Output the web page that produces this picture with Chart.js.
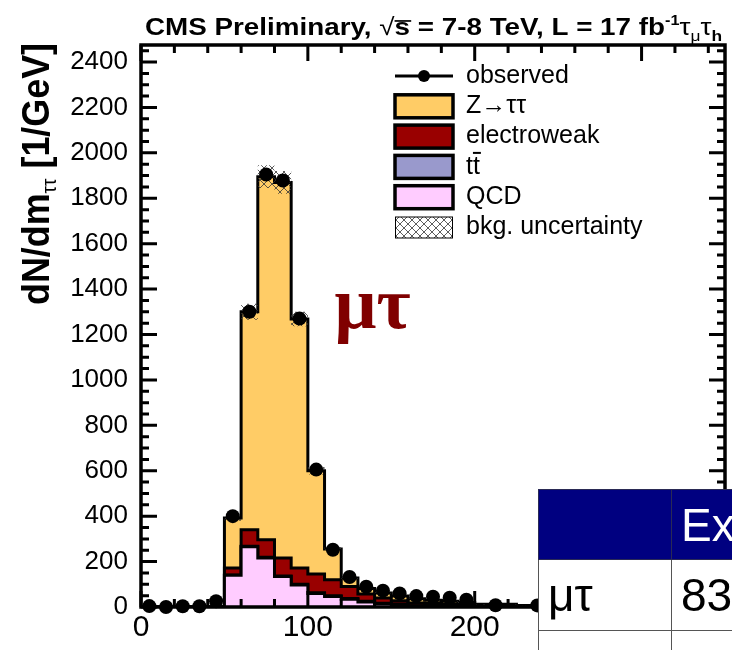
<!DOCTYPE html>
<html>
<head>
<meta charset="utf-8">
<script src="https://cdn.jsdelivr.net/npm/chart.js@4.4.1/dist/chart.umd.min.js"></script>
<style>
  html, body { margin: 0; padding: 0; background: #fff; width: 732px; height: 650px; overflow: hidden; }
  #wrap { position: relative; width: 732px; height: 650px; overflow: hidden; }
  #c { position: absolute; left: 0; top: 0; }
  #yields {
    position: absolute; left: 538px; top: 489px; width: 600px;
    table-layout: fixed; border-collapse: collapse;
    font-family: "Liberation Sans", Arial, sans-serif; font-size: 46px;
  }
  #yields th, #yields td {
    border: 1px solid #555; padding: 0 0 0 9px; text-align: left; overflow: hidden;
    white-space: nowrap; font-weight: normal; vertical-align: middle;
  }
  #yields th { background: #000080; color: #fff; height: 69px; border-color: #2a2a55; }
  #yields td { background: #fff; color: #000; height: 70px; }
  #yields .c1 { width: 123px; }
</style>
</head>
<body>
<div id="wrap">
  <canvas id="c" width="732" height="650"></canvas>
  <table id="yields">
    <tr><th class="c1"></th><th>Expected</th></tr>
    <tr><td class="c1">μτ</td><td>83</td></tr>
    <tr><td class="c1">eτ</td><td>24</td></tr>
  </table>
</div>
<script>
// ---- binning and contents (events per GeV) ----
const binEdges = [0, 10, 20, 30, 40, 50, 60, 70, 80, 90, 100, 110, 120, 130, 140, 150, 160, 170, 180, 190, 200, 225, 250, 275, 300, 325, 350];

const observed    = [4, 0, 3, 3, 25, 400, 1300, 1905, 1878, 1270, 605, 252, 132, 89, 72, 60, 48, 45, 41, 32, 8, 7, 4, 3, 2, 2];
const zTauTau     = [0, 0, 0, 0, 0, 220, 960, 1599, 1654, 1096, 455, 135, 38, 25, 22, 20, 18, 15, 13, 9, 6, 2, 1, 1, 0.5, 0.5];
const electroweak = [0, 0, 0, 0, 0, 31, 73, 77, 79, 72, 82, 71, 53, 32, 23, 15, 12, 10, 8, 7, 4, 3, 1.5, 1, 1, 0.5];
const ttbar       = [0, 0, 0, 0, 0, 1, 2, 3, 3, 3, 3, 3, 3, 3, 3, 2, 2, 2, 2, 2, 1, 1, 0.5, 0.5, 0.3, 0.3];
const qcd         = [0, 0, 0, 0, 0, 140, 265, 216, 134, 97, 60, 46, 34, 22, 14, 11, 4, 3, 2, 2, 1, 1, 0.5, 0.5, 0.3, 0.3];
const bkgUncertainty = [0, 0, 0, 0, 0, 12, 35, 50, 50, 32, 16, 8, 5, 4, 3, 3, 2, 2, 2, 2, 1, 1, 1, 1, 1, 1];

const xTicks = [0, 100, 200, 300];
const yTicks = [0, 200, 400, 600, 800, 1000, 1200, 1400, 1600, 1800, 2000, 2200, 2400];
const xRange = [0, 350];
const yRange = [0, 2475];
const xMinorStep = 20;
const yMinorStep = 50;

const SANS = '"Liberation Sans", Arial, Helvetica, sans-serif';
const SERIF = '"Liberation Serif", "Times New Roman", serif';

// histogram outline points: value i holds across [edge i, edge i+1]
function histPoints(values) {
  const pts = values.map((v, i) => ({ x: binEdges[i], y: v }));
  pts.push({ x: binEdges[values.length], y: values[values.length - 1] });
  return pts;
}
function centerPoints(values) {
  return values.map((v, i) => ({ x: (binEdges[i] + binEdges[i + 1]) / 2, y: v }));
}

const bkgTotal = zTauTau.map((v, i) => v + electroweak[i] + ttbar[i] + qcd[i]);
const uncUp = bkgTotal.map((v, i) => v + bkgUncertainty[i]);
const uncDown = bkgTotal.map((v, i) => Math.max(0, v - bkgUncertainty[i]));

// cross-hatch fill for the background uncertainty
function makeHatch() {
  const c = document.createElement('canvas');
  c.width = 8; c.height = 8;
  const g = c.getContext('2d');
  g.strokeStyle = '#333';
  g.lineWidth = 0.8;
  g.beginPath();
  g.moveTo(0, 0); g.lineTo(8, 8);
  g.moveTo(0, 8); g.lineTo(8, 0);
  g.stroke();
  return g.createPattern(c, 'repeat');
}
const hatch = makeHatch();

function histDataset(label, values, color, order) {
  return {
    label, data: histPoints(values), stack: 'mc', order,
    stepped: true, fill: 'origin', backgroundColor: color,
    borderColor: '#000', borderWidth: 3, borderJoinStyle: 'miter',
    pointRadius: 0, pointHoverRadius: 0
  };
}

const datasets = [
  {
    label: 'observed', data: centerPoints(observed), stack: 'obs', order: 0,
    showLine: false, pointRadius: 7, pointHoverRadius: 7,
    pointBackgroundColor: '#000', pointBorderColor: '#000', pointBorderWidth: 0,
    borderColor: '#000', clip: false
  },
  {
    label: 'bkg. uncertainty', data: histPoints(uncUp), stack: 'uncUp', order: 1,
    stepped: true, fill: '+1', backgroundColor: hatch, borderWidth: 0,
    pointRadius: 0, pointHoverRadius: 0
  },
  {
    label: '', data: histPoints(uncDown), stack: 'uncDown', order: 2,
    stepped: true, fill: false, borderWidth: 0, pointRadius: 0, pointHoverRadius: 0
  },
  histDataset('QCD', qcd, '#FFCCFF', 3),
  histDataset('tt\u0304', ttbar, '#9999CC', 4),
  histDataset('electroweak', electroweak, '#990000', 5),
  histDataset('Z\u2192\u03C4\u03C4', zTauTau, '#FFCC66', 6)
];

// text made of pieces with sub/superscripts, squeezed to a given width
function drawRich(ctx, pieces, targetWidth) {
  let total = 0;
  const widths = pieces.map(p => {
    ctx.font = `${p.weight || 'bold'} ${p.size}px ${p.family || SANS}`;
    const w = ctx.measureText(p.t).width;
    total += w;
    return w;
  });
  const s = targetWidth ? targetWidth / total : 1;
  ctx.save();
  ctx.scale(s, 1);
  let x = 0;
  pieces.forEach((p, i) => {
    ctx.font = `${p.weight || 'bold'} ${p.size}px ${p.family || SANS}`;
    ctx.fillText(p.t, x, p.dy || 0);
    if (p.over) {
      ctx.fillRect(x, -p.size * 0.62, widths[i] + 1, Math.max(1.5, p.size * 0.07));
    }
    x += widths[i];
  });
  ctx.restore();
}

const decorations = {
  id: 'decorations',
  afterDatasetsDraw(chart) {
    const { ctx, chartArea: a, scales: { x, y } } = chart;
    ctx.save();
    ctx.strokeStyle = '#000';
    ctx.lineCap = 'butt';
    ctx.lineWidth = 3;
    ctx.beginPath();
    // y-axis ticks, left and right
    for (let v = yRange[0]; v <= yRange[1]; v += yMinorStep) {
      const py = y.getPixelForValue(v);
      const len = yTicks.includes(v) ? 16 : 8;
      ctx.moveTo(a.left, py); ctx.lineTo(a.left + len, py);
      ctx.moveTo(a.right, py); ctx.lineTo(a.right - len, py);
    }
    // x-axis ticks, bottom and top
    for (let v = xRange[0]; v <= xRange[1]; v += xMinorStep) {
      const px = x.getPixelForValue(v);
      const len = xTicks.includes(v) ? 16 : 8;
      ctx.moveTo(px, a.bottom); ctx.lineTo(px, a.bottom - len);
      ctx.moveTo(px, a.top); ctx.lineTo(px, a.top + len);
    }
    ctx.stroke();
    ctx.lineWidth = 3.5;
    ctx.strokeRect(a.left, a.top, a.right - a.left, a.bottom - a.top);
    ctx.restore();
  },
  afterDraw(chart) {
    const { ctx, scales: { x, y } } = chart;
    ctx.save();
    ctx.fillStyle = '#000';
    ctx.textBaseline = 'alphabetic';

    // header line
    ctx.save();
    ctx.translate(145, 35);
    drawRich(ctx, [
      { t: 'CMS Preliminary, ', size: 24 },
      { t: '\u221A', size: 24, weight: 'normal' },
      { t: 's', size: 24, over: true },
      { t: ' = 7-8 TeV, L = 17 fb', size: 24 },
      { t: '-1', size: 14, dy: -10 },
      { t: '\u03C4', size: 24, weight: 'normal' },
      { t: '\u03BC', size: 15, weight: 'normal', dy: 6 },
      { t: '\u03C4', size: 24, weight: 'normal' },
      { t: 'h', size: 15, dy: 6 }
    ], 577);
    ctx.restore();

    // y-axis title
    ctx.save();
    ctx.translate(49, 305);
    ctx.rotate(-Math.PI / 2);
    drawRich(ctx, [
      { t: 'dN/dm', size: 38 },
      { t: '\u03C4\u03C4', size: 20, weight: 'normal', dy: 7 },
      { t: ' [1/GeV]', size: 38 }
    ], 262);
    ctx.restore();

    // channel tag
    ctx.fillStyle = '#800000';
    ctx.font = `bold 74px ${SERIF}`;
    ctx.fillText('\u03BC\u03C4', x.getPixelForValue(116), y.getPixelForValue(1228));

    // legend
    const rows = [0, 6, 5, 4, 3, 1];
    const lx = 395, lw = 58, tx = 466, y0 = 76, dy = 30.3;
    ctx.font = `25px ${SANS}`;
    ctx.textBaseline = 'middle';
    rows.forEach((di, r) => {
      const ds = chart.data.datasets[di];
      const cy = y0 + r * dy;
      ctx.save();
      if (ds.showLine === false) {
        ctx.strokeStyle = '#000'; ctx.lineWidth = 3;
        ctx.beginPath(); ctx.moveTo(lx, cy); ctx.lineTo(lx + lw, cy); ctx.stroke();
        ctx.fillStyle = '#000';
        ctx.beginPath(); ctx.arc(lx + lw / 2, cy, 6, 0, Math.PI * 2); ctx.fill();
      } else if (ds.backgroundColor === hatch) {
        ctx.fillStyle = '#fff'; ctx.fillRect(lx, cy - 10.5, lw, 21);
        ctx.fillStyle = hatch; ctx.fillRect(lx, cy - 10.5, lw, 21);
        ctx.strokeStyle = '#000'; ctx.lineWidth = 1;
        ctx.strokeRect(lx + 0.5, cy - 10.5, lw - 1, 21);
      } else {
        ctx.fillStyle = ds.backgroundColor;
        ctx.fillRect(lx, cy - 11.5, lw, 23);
        ctx.strokeStyle = '#000'; ctx.lineWidth = 3.5;
        ctx.strokeRect(lx, cy - 11.5, lw, 23);
      }
      ctx.restore();
      ctx.fillStyle = '#000';
      const label = ds.label;
      if (label.includes('\u0304')) {
        const plain = label.replace('\u0304', '');
        ctx.fillText(plain, tx, cy);
        const wAll = ctx.measureText(plain).width;
        const wOne = ctx.measureText(plain.slice(0, -1)).width;
        ctx.fillRect(tx + wOne, cy - 15, wAll - wOne + 1, 2);
      } else {
        ctx.fillText(label, tx, cy);
      }
    });
    ctx.restore();
  }
};

Chart.defaults.font.family = SANS;
Chart.defaults.color = '#000';

new Chart(document.getElementById('c'), {
  type: 'line',
  data: { datasets },
  options: {
    responsive: false,
    animation: false,
    events: [],
    layout: { padding: { top: 45, right: 5, left: 0, bottom: 0 } },
    plugins: {
      legend: { display: false },
      tooltip: { enabled: false },
      filler: { drawTime: 'beforeDatasetDraw' }
    },
    scales: {
      x: {
        type: 'linear', min: xRange[0], max: xRange[1],
        grid: { display: false, drawTicks: false },
        border: { display: false },
        afterFit(s) { s.height = 43; },
        afterBuildTicks(s) { s.ticks = xTicks.map(v => ({ value: v })); },
        ticks: { font: { size: 30 }, color: '#000', padding: 3, maxRotation: 0, autoSkip: false,
                 callback: v => String(v) }
      },
      y: {
        type: 'linear', min: yRange[0], max: yRange[1], stacked: true,
        grid: { display: false, drawTicks: false },
        border: { display: false },
        afterFit(s) { s.width = 141; },
        afterBuildTicks(s) { s.ticks = yTicks.map(v => ({ value: v })); },
        ticks: { font: { size: 26 }, color: '#000', padding: 13, callback: v => String(v) }
      }
    }
  },
  plugins: [decorations]
});
</script>
</body>
</html>
